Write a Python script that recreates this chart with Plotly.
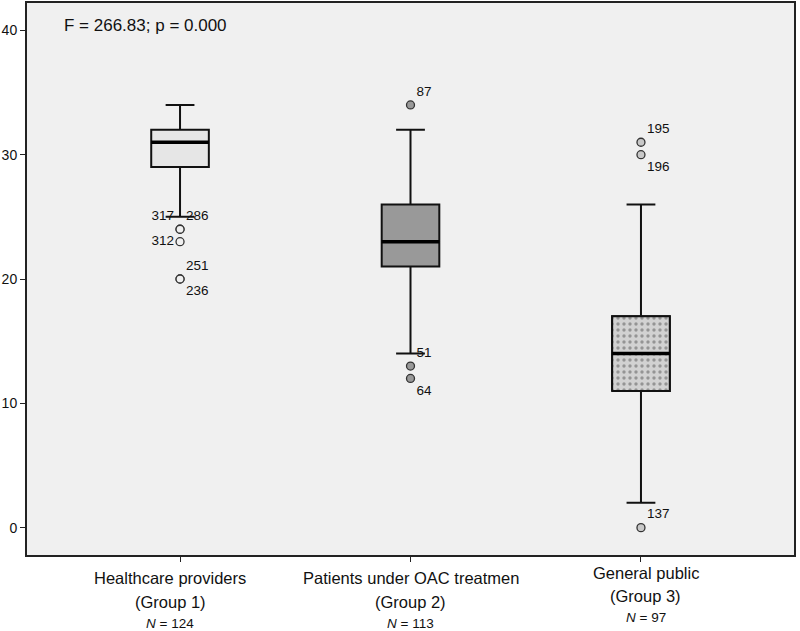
import plotly.graph_objects as go

# ---------------- data ----------------
groups = ["Healthcare providers", "Patients under OAC treatmen", "General public"]
group_ids = ["(Group 1)", "(Group 2)", "(Group 3)"]
n_values = [124, 113, 97]

q1_vals = [29, 21, 11]
median_vals = [31, 23, 14]
q3_vals = [32, 26, 17]
lower_whisker = [25, 14, 2]
upper_whisker = [34, 32, 26]

# outliers: (group index, value, case label, label position)
out_group = [0, 0, 0, 0, 0, 1, 1, 1, 2, 2, 2]
out_value = [24, 24, 23, 20, 20, 34, 13, 12, 31, 30, 0]
out_label = ["317", "286", "312", "251", "236", "87", "51", "64", "195", "196", "137"]
out_textpos = ["top left", "top right", "middle left", "top right", "bottom right",
               "top right", "top right", "bottom right",
               "top right", "bottom right", "top right"]

stat_text = "F = 266.83; p = 0.000"

# ---------------- style ----------------
box_fill = ["#e6e6e6", "#999999", "#d2d2d2"]
outlier_fill = ["#f0f0f0", "#999999", "#c8c8c8"]
box_w = 0.25
font_family = "Liberation Sans, Arial, sans-serif"

fig = go.Figure()

for i in range(3):
    fig.add_trace(go.Box(
        x=[i], q1=[q1_vals[i]], median=[median_vals[i]], q3=[q3_vals[i]],
        lowerfence=[lower_whisker[i]], upperfence=[upper_whisker[i]],
        width=box_w, whiskerwidth=0.5, boxpoints=False,
        fillcolor=box_fill[i], line=dict(color="#111111", width=2),
        showlegend=False, hoverinfo="skip",
    ))

# dotted pattern for group 3 box
g = 2
fig.add_trace(go.Scatter(
    x=[g - box_w / 2, g + box_w / 2, g + box_w / 2, g - box_w / 2, g - box_w / 2],
    y=[q1_vals[g], q1_vals[g], q3_vals[g], q3_vals[g], q1_vals[g]],
    mode="lines", fill="toself",
    fillcolor=box_fill[g],
    fillpattern=dict(shape=".", fgcolor="#555555", bgcolor=box_fill[g], size=6, solidity=0.25),
    line=dict(color="#111111", width=2),
    showlegend=False, hoverinfo="skip",
))

# thick median lines
for i in range(3):
    fig.add_trace(go.Scatter(
        x=[i - box_w / 2, i + box_w / 2], y=[median_vals[i], median_vals[i]],
        mode="lines", line=dict(color="#000000", width=3.5),
        showlegend=False, hoverinfo="skip",
    ))

# outliers
for gi in range(3):
    idx = [k for k in range(len(out_group)) if out_group[k] == gi]
    fig.add_trace(go.Scatter(
        x=[out_group[k] for k in idx], y=[out_value[k] for k in idx],
        mode="markers+text",
        text=[out_label[k] for k in idx],
        textposition=[out_textpos[k] for k in idx],
        textfont=dict(family=font_family, size=13.5, color="#111111"),
        marker=dict(size=8, color=outlier_fill[gi], line=dict(color="#333333", width=1.3)),
        showlegend=False, hoverinfo="skip", cliponaxis=False,
    ))

annotations = [dict(
    x=0.045, y=0.96, xref="paper", yref="paper", xanchor="left", yanchor="middle",
    text=stat_text, showarrow=False, font=dict(family=font_family, size=17, color="#111111"),
)]
yshifts = [[-23, -47, -68], [-23, -47, -68], [-18, -41, -62]]
xshifts = [-10, 0, 5]
for i in range(3):
    texts = [groups[i], group_ids[i], "<i>N</i> = %d" % n_values[i]]
    sizes = [16.5, 16.5, 13.5]
    for t, s, ys in zip(texts, sizes, yshifts[i]):
        annotations.append(dict(x=i, y=0, xref="x", yref="paper", yanchor="middle",
                                xshift=xshifts[i], yshift=ys, text=t, showarrow=False,
                                font=dict(family=font_family, size=s, color="#111111")))

fig.update_layout(
    width=800, height=631,
    margin=dict(l=27, r=6, t=3, b=76),
    paper_bgcolor="white", plot_bgcolor="#f0f0f0",
    font=dict(family=font_family, size=14, color="#111111"),
    annotations=annotations,
    xaxis=dict(range=[-0.664, 2.664], tickvals=[0, 1, 2], ticktext=["", "", ""],
               showgrid=False, zeroline=False, showline=True, linecolor="#222222",
               linewidth=2, mirror=True, ticks="outside", ticklen=5, tickcolor="#222222",
               fixedrange=True, automargin=False),
    yaxis=dict(range=[-2.2, 42.2], tickvals=[0, 10, 20, 30, 40],
               showgrid=False, zeroline=False, showline=True, linecolor="#222222",
               linewidth=2, mirror=True, ticks="outside", ticklen=5, tickcolor="#222222",
               tickfont=dict(size=14), fixedrange=True, automargin=False),
)

fig.write_html("out.html", config={"displayModeBar": False},
               post_script="document.body.style.margin='0';document.body.style.overflow='hidden';")
